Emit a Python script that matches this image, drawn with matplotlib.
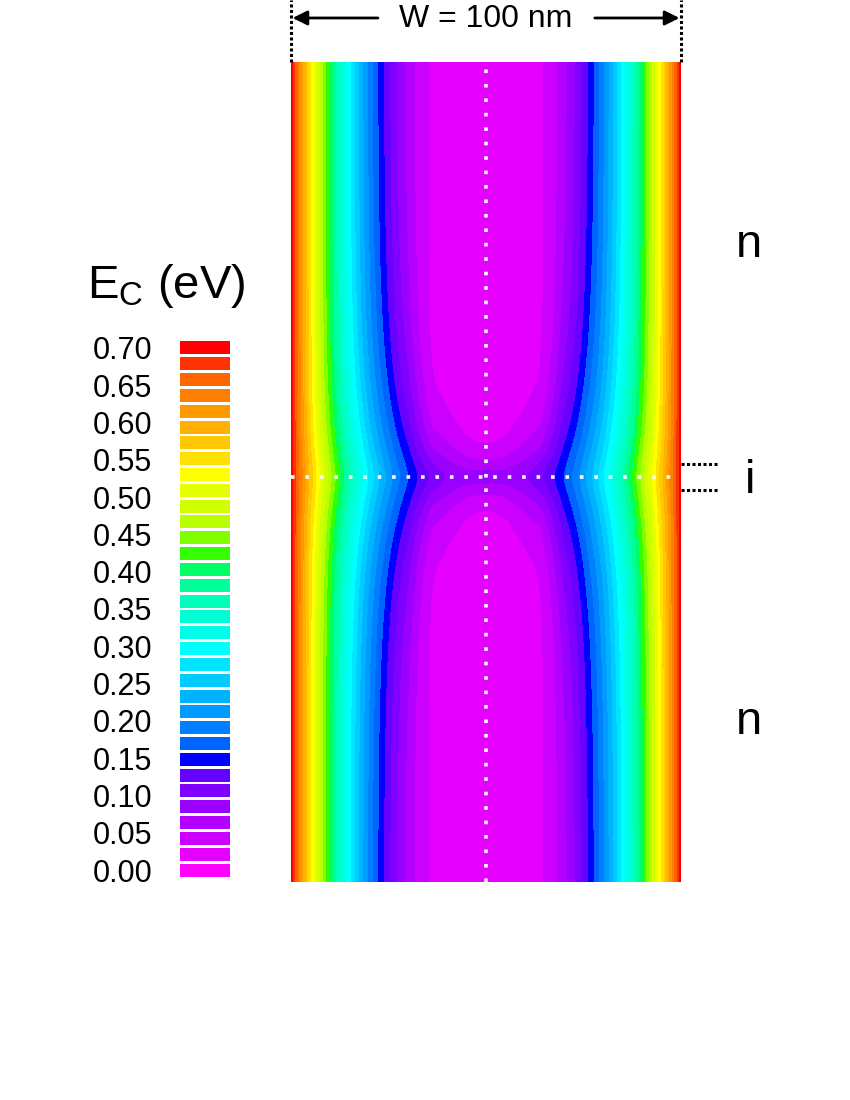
import numpy as np
import matplotlib
matplotlib.use("Agg")
import matplotlib.pyplot as plt

plt.rcParams['font.family'] = ['Liberation Sans', 'DejaVu Sans']
plt.rcParams['mathtext.default'] = 'regular'

# legend colours, lowest level first
level_colors = [
    '#FF00FF', '#E600FF', '#CC00FF', '#B300FF', '#9900FF', '#7F00FF',
    '#6600FF', '#0000FF', '#0064FF', '#0080FF', '#009BFF', '#00B3FF',
    '#00CCFF', '#00E5FF', '#00FFFF', '#00FFE8', '#00FFD5', '#00FFBB',
    '#00FF99', '#00FF66', '#33FF00', '#7FFF00', '#B9FF00', '#D0FF00',
    '#E5FF00', '#FFFF00', '#FFE000', '#FFC800', '#FFB000', '#FF9900',
    '#FF7F00', '#FF6600', '#FF3300', '#FF0000',
]
E_MAX = 0.70
tick_values = [0.00, 0.05, 0.10, 0.15, 0.20, 0.25, 0.30, 0.35,
               0.40, 0.45, 0.50, 0.55, 0.60, 0.65, 0.70]
tick_labels = ['0.00', '0.05', '0.10', '0.15', '0.20', '0.25', '0.30', '0.35',
               '0.40', '0.45', '0.50', '0.55', '0.60', '0.65', '0.70']

# wire geometry (nm), junction at y = 0
WIDTH = 100.0
Y_BOTTOM, Y_TOP = -103.8, 106.4
I_HALF = 3.3

# band profile across the wire: n region and i region
E_EDGE = 0.70
E_MIN_N, L_N = 0.02, 40.5
E_MIN_I, L_I = 0.08, 46.5
# how far the i-region bump reaches along the wire, vs distance from surface
decay_d = [0, 8, 16, 24, 30, 33, 36, 39, 42, 45, 48, 50]
decay_len = [10, 14, 21, 23, 22, 14, 8.5, 9, 7, 4.8, 3.9, 3.8]
CORE = 3.0  # rounding of the junction apex (nm)

x = np.linspace(0, WIDTH, 801)
y = np.linspace(Y_BOTTOM, Y_TOP, 1201)
X, Y = np.meshgrid(x, y)
d = np.minimum(X, WIDTH - X)
En = E_MIN_N + (E_EDGE - E_MIN_N) * np.clip(1 - d / L_N, 0, None) ** 2
Ei = E_MIN_I + (E_EDGE - E_MIN_I) * np.clip(1 - d / L_I, 0, None) ** 2
lam = np.interp(d, decay_d, decay_len)
dy = np.sqrt(Y ** 2 + CORE ** 2) - CORE
w = np.exp(-dy / lam)
E = np.clip(En + (Ei - En) * w, 0, E_MAX)

pitch = E_MAX / (len(level_colors) - 1)
levels = (np.arange(len(level_colors) + 1) - 0.5) * pitch

fig = plt.figure(figsize=(8.5, 11), dpi=100)
PXW, PXH = 850.0, 1100.0

ax = fig.add_axes([291 / PXW, 1 - 882 / PXH, 390 / PXW, 820 / PXH])
ax.contourf(X, Y, E, levels=levels, colors=level_colors, antialiased=False)
ax.set_xlim(0, WIDTH)
ax.set_ylim(Y_BOTTOM, Y_TOP)
ax.axis('off')

# white dotted guides
ax.axvline(WIDTH / 2, color='white', lw=2.6, ls=(0, (1, 3)), dash_capstyle='butt')
ax.axhline(0, color='white', lw=2.6, ls=(0, (1, 3)), dash_capstyle='butt')

# W markers above the wire
px = 3.9  # pixels per nm
top_ext = Y_TOP + 62 / px
for xe in (0, WIDTH):
    ax.plot([xe, xe], [Y_TOP, top_ext], color='black', lw=2.2,
            ls=(0, (1, 0.8)), clip_on=False)
ya = Y_TOP + (62 - 18) / px
ax.annotate('', xy=(0.4, ya), xytext=(22.3, ya), annotation_clip=False,
            arrowprops=dict(arrowstyle='-|>', color='black', lw=2,
                            mutation_scale=22, shrinkA=0, shrinkB=0))
ax.annotate('', xy=(99.6, ya), xytext=(77.9, ya), annotation_clip=False,
            arrowprops=dict(arrowstyle='-|>', color='black', lw=2,
                            mutation_scale=22, shrinkA=0, shrinkB=0))
ax.text(WIDTH / 2, Y_TOP + (62 - 27) / px, 'W = 100 nm', ha='center',
        va='baseline', fontsize=23, clip_on=False)

# i region markers
for yi in (I_HALF, -I_HALF):
    ax.plot([WIDTH, WIDTH + 37 / px], [yi, yi], color='black', lw=2.2,
            ls=(0, (1, 0.8)), clip_on=False)
ax.text(117.6, -4.1, 'i', ha='center', va='baseline', fontsize=34, clip_on=False)
ax.text(117.4, 56.4, 'n', ha='center', va='baseline', fontsize=34, clip_on=False)
ax.text(117.4, -65.9, 'n', ha='center', va='baseline', fontsize=34, clip_on=False)

# legend
cax = fig.add_axes([180 / PXW, 1 - 878 / PXH, 50 / PXW, 538 / PXH])
centers = np.arange(len(level_colors)) * pitch
cax.barh(centers, 1, height=pitch * 0.82, left=0, color=level_colors)
cax.set_xlim(0, 1)
cax.set_ylim(-pitch / 2, E_MAX + pitch / 2)
cax.set_xticks([])
cax.set_yticks(tick_values)
cax.set_yticklabels(tick_labels, fontsize=22)
cax.tick_params(axis='y', length=0, pad=20)
for s in cax.spines.values():
    s.set_visible(False)

fig.text(87 / PXW, 1 - 298 / PXH, '$E_C$ (eV)', fontsize=34,
         ha='left', va='baseline')

fig.savefig('out.png', dpi=100)
